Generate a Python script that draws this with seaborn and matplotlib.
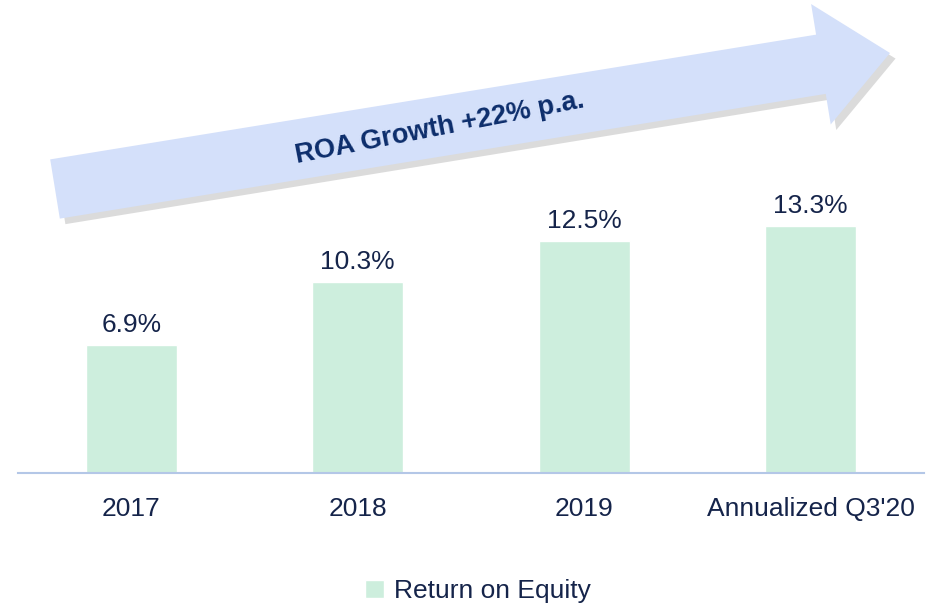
# Return on Equity bar chart with a "ROA Growth" arrow banner on top.

import matplotlib
matplotlib.use("Agg")
import matplotlib.pyplot as plt
import matplotlib.patheffects as pe
from matplotlib.patches import FancyArrow
from matplotlib.transforms import Affine2D
import pandas as pd
import seaborn as sns

# data
periods = ["2017", "2018", "2019", "Annualized Q3'20"]
roe_values = [6.9, 10.3, 12.5, 13.3]
series_name = "Return on Equity"
banner_text = "ROA Growth +22% p.a."

BAR_COLOR = "#cdeedd"
TEXT_COLOR = "#15244a"
ARROW_COLOR = "#d4e0fa"
ARROW_TEXT = "#0c2d6b"
BASELINE = "#b4c7e7"

sns.set_theme(style="white")
plt.rcParams["font.family"] = ["Liberation Sans", "DejaVu Sans"]

df = pd.DataFrame({"period": periods, "value": roe_values, "series": series_name})

W, H, DPI = 937, 605, 100
fig = plt.figure(figsize=(W / DPI, H / DPI), dpi=DPI)
ax = fig.add_axes([18 / W, 1 - 473 / H, 906 / W, 473 / H])

sns.barplot(data=df, x="period", y="value", hue="series", palette=[BAR_COLOR],
            width=0.4, ax=ax, saturation=1)
ax.set_ylim(0, 25.5)
ax.set_xlim(-0.5, len(periods) - 0.5)

for c in ax.containers:
    ax.bar_label(c, fmt="%.1f%%", padding=6, fontsize=19, color=TEXT_COLOR)

ax.set_xlabel("")
ax.set_ylabel("")
ax.set_yticks([])
ax.tick_params(axis="x", length=0, pad=17, labelsize=19, labelcolor=TEXT_COLOR)
for side in ["top", "left", "right"]:
    ax.spines[side].set_visible(False)
ax.spines["bottom"].set_color(BASELINE)
ax.spines["bottom"].set_linewidth(1.5)

sns.move_legend(ax, "center", bbox_to_anchor=(0.508, -0.25), frameon=False,
                title=None, fontsize=19, handlelength=0.7, handleheight=0.7,
                handletextpad=0.4)
for t in ax.get_legend().get_texts():
    t.set_color(TEXT_COLOR)

# banner arrow, laid out in pixel units (origin bottom-left)
px = Affine2D().scale(1 / DPI) + fig.dpi_scale_trans
shadow = pe.SimplePatchShadow(offset=(4, -4), shadow_rgbFace="0.6", alpha=0.35)
arrow = FancyArrow(55, H - 189, 835, 136, width=60, head_width=122,
                   head_length=70, length_includes_head=True,
                   facecolor=ARROW_COLOR, edgecolor="none", transform=px,
                   path_effects=[shadow, pe.Normal()])
fig.add_artist(arrow)
fig.text(440, H - 128, banner_text, transform=px, rotation=11,
         rotation_mode="anchor", ha="center", va="center", fontsize=19.5,
         fontweight="bold", color=ARROW_TEXT)

fig.savefig("out.png", dpi=DPI)
plt.close(fig)
